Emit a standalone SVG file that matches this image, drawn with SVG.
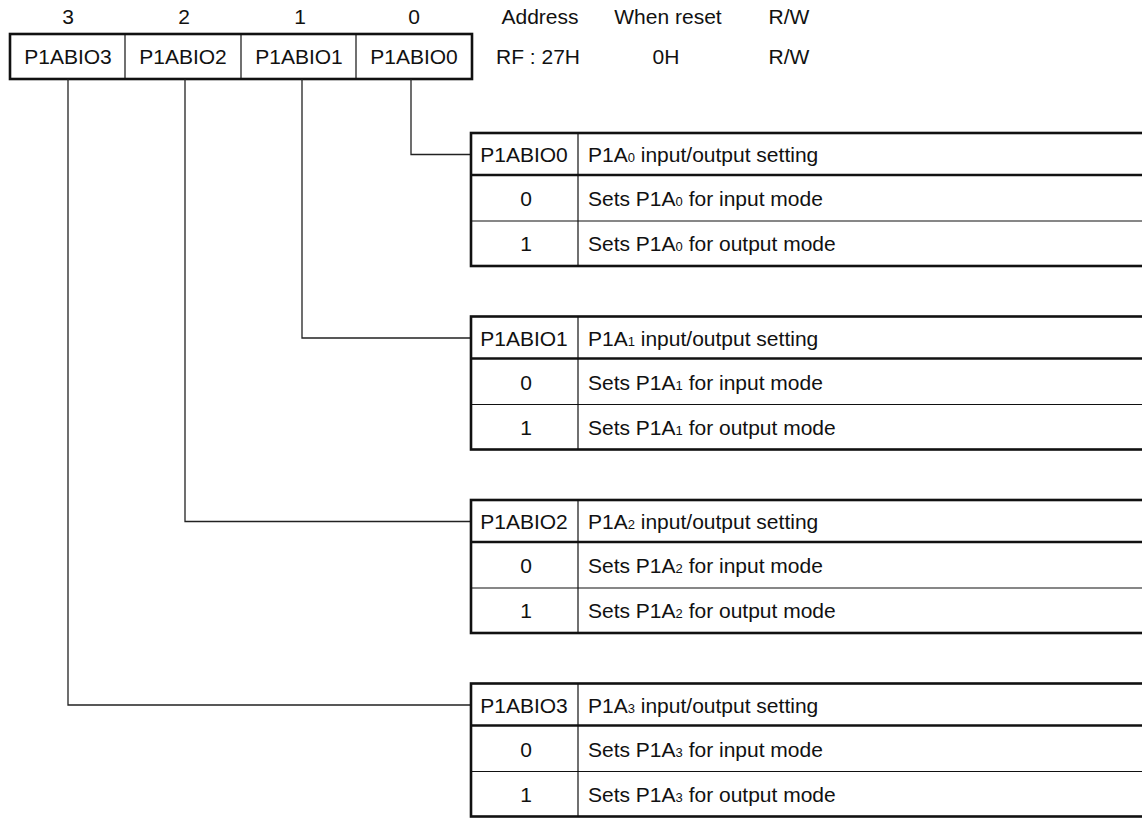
<svg xmlns="http://www.w3.org/2000/svg" width="1142" height="818" viewBox="0 0 1142 818">
<style>
text{font-family:"Liberation Sans",Arial,sans-serif;font-size:21px;fill:#111}
.c{text-anchor:middle}
.sub{font-size:13px}
.thick{stroke:#111;stroke-width:2.6;fill:none}
.thin{stroke:#111;stroke-width:1.2;fill:none}
.conn{stroke:#222;stroke-width:1.3;fill:none}
</style>
<rect width="1142" height="818" fill="#fff"/>
<g id="bit-numbers">
<text class="c" x="68" y="24">3</text>
<text class="c" x="184" y="24">2</text>
<text class="c" x="300" y="24">1</text>
<text class="c" x="414" y="24">0</text>
</g>
<g id="register-info">
<text class="c" x="540" y="24">Address</text>
<text class="c" x="668" y="24">When reset</text>
<text class="c" x="789" y="24">R/W</text>
<text class="c" x="538" y="64">RF : 27H</text>
<text class="c" x="666" y="64">0H</text>
<text class="c" x="789" y="64">R/W</text>
</g>
<g id="register">
<rect class="thick" x="10" y="34" width="462" height="45"/>
<line class="thin" x1="125" y1="34" x2="125" y2="79"/>
<line class="thin" x1="241" y1="34" x2="241" y2="79"/>
<line class="thin" x1="356" y1="34" x2="356" y2="79"/>
<text class="c" x="68" y="64">P1ABIO3</text>
<text class="c" x="183" y="64">P1ABIO2</text>
<text class="c" x="299" y="64">P1ABIO1</text>
<text class="c" x="414" y="64">P1ABIO0</text>
</g>
<g id="connectors">
<polyline class="conn" points="411,79 411,154.5 471,154.5"/>
<polyline class="conn" points="302,79 302,338 471,338"/>
<polyline class="conn" points="185,79 185,521.5 471,521.5"/>
<polyline class="conn" points="68,79 68,705 471,705"/>
</g>
<g id="table-bit0" transform="translate(0,133)">
<rect class="thick" x="471" y="0" width="690" height="133"/>
<line class="thick" x1="471" y1="42" x2="1150" y2="42"/>
<line class="thin" x1="471" y1="88" x2="1150" y2="88"/>
<line class="thin" x1="578" y1="0" x2="578" y2="133"/>
<text class="c" x="524" y="29">P1ABIO0</text>
<text x="588" y="29">P1A<tspan class="sub">0</tspan> input/output setting</text>
<text class="c" x="526" y="73">0</text>
<text x="588" y="73">Sets P1A<tspan class="sub">0</tspan> for input mode</text>
<text class="c" x="526" y="118">1</text>
<text x="588" y="118">Sets P1A<tspan class="sub">0</tspan> for output mode</text>
</g>
<g id="table-bit1" transform="translate(0,316.5)">
<rect class="thick" x="471" y="0" width="690" height="133"/>
<line class="thick" x1="471" y1="42" x2="1150" y2="42"/>
<line class="thin" x1="471" y1="88" x2="1150" y2="88"/>
<line class="thin" x1="578" y1="0" x2="578" y2="133"/>
<text class="c" x="524" y="29">P1ABIO1</text>
<text x="588" y="29">P1A<tspan class="sub">1</tspan> input/output setting</text>
<text class="c" x="526" y="73">0</text>
<text x="588" y="73">Sets P1A<tspan class="sub">1</tspan> for input mode</text>
<text class="c" x="526" y="118">1</text>
<text x="588" y="118">Sets P1A<tspan class="sub">1</tspan> for output mode</text>
</g>
<g id="table-bit2" transform="translate(0,500)">
<rect class="thick" x="471" y="0" width="690" height="133"/>
<line class="thick" x1="471" y1="42" x2="1150" y2="42"/>
<line class="thin" x1="471" y1="88" x2="1150" y2="88"/>
<line class="thin" x1="578" y1="0" x2="578" y2="133"/>
<text class="c" x="524" y="29">P1ABIO2</text>
<text x="588" y="29">P1A<tspan class="sub">2</tspan> input/output setting</text>
<text class="c" x="526" y="73">0</text>
<text x="588" y="73">Sets P1A<tspan class="sub">2</tspan> for input mode</text>
<text class="c" x="526" y="118">1</text>
<text x="588" y="118">Sets P1A<tspan class="sub">2</tspan> for output mode</text>
</g>
<g id="table-bit3" transform="translate(0,683.5)">
<rect class="thick" x="471" y="0" width="690" height="133"/>
<line class="thick" x1="471" y1="42" x2="1150" y2="42"/>
<line class="thin" x1="471" y1="88" x2="1150" y2="88"/>
<line class="thin" x1="578" y1="0" x2="578" y2="133"/>
<text class="c" x="524" y="29">P1ABIO3</text>
<text x="588" y="29">P1A<tspan class="sub">3</tspan> input/output setting</text>
<text class="c" x="526" y="73">0</text>
<text x="588" y="73">Sets P1A<tspan class="sub">3</tspan> for input mode</text>
<text class="c" x="526" y="118">1</text>
<text x="588" y="118">Sets P1A<tspan class="sub">3</tspan> for output mode</text>
</g>
</svg>
